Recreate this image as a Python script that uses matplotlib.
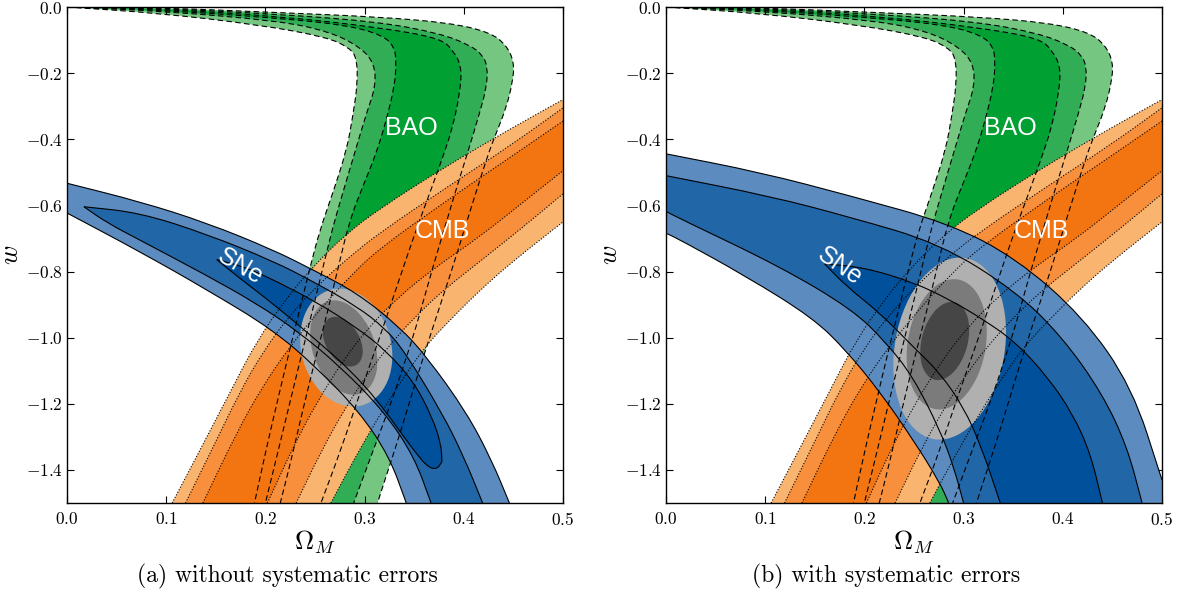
import matplotlib.pyplot as plt
from matplotlib.patches import Ellipse, PathPatch
from matplotlib.path import Path
from matplotlib.transforms import Affine2D

plt.rcParams['font.family'] = 'serif'
plt.rcParams['font.serif'] = ['cmr10']
plt.rcParams['mathtext.fontset'] = 'cm'
plt.rcParams['axes.formatter.use_mathtext'] = True
plt.rcParams['axes.unicode_minus'] = True

# BAO contour edges (Omega_M, w): right (r) and left (l) edge of each sigma level
bao_r3 = [(0.0, 0.0), (0.094, -0.002), (0.2145, -0.017), (0.315, -0.030), (0.386, -0.048),
          (0.426, -0.076), (0.443, -0.115), (0.451, -0.169), (0.449, -0.230), (0.443, -0.302),
          (0.434, -0.372), (0.426, -0.432), (0.414, -0.544), (0.402, -0.659), (0.388, -0.795),
          (0.369, -0.967), (0.352, -1.127), (0.337, -1.278), (0.325, -1.389), (0.313, -1.50)]
bao_r2 = [(0.0, 0.0), (0.094, -0.004), (0.2145, -0.022), (0.315, -0.045), (0.376, -0.080),
          (0.406, -0.115), (0.419, -0.145), (0.424, -0.181), (0.423, -0.242), (0.416, -0.320),
          (0.405, -0.430), (0.393, -0.544), (0.381, -0.665), (0.369, -0.785), (0.356, -0.924),
          (0.348, -1.006), (0.330, -1.170), (0.310, -1.330), (0.289, -1.50)]
bao_r1 = [(0.0, 0.0), (0.094, -0.006), (0.2145, -0.028), (0.315, -0.062), (0.376, -0.094),
          (0.389, -0.130), (0.398, -0.181), (0.396, -0.260), (0.389, -0.362), (0.379, -0.453),
          (0.366, -0.560), (0.350, -0.690), (0.332, -0.850), (0.314, -1.010), (0.295, -1.170),
          (0.276, -1.340), (0.256, -1.50)]
bao_l1 = [(0.0, 0.0), (0.094, -0.009), (0.2145, -0.034), (0.2825, -0.055), (0.318, -0.085),
          (0.330, -0.120), (0.332, -0.169), (0.330, -0.242), (0.322, -0.341), (0.312, -0.441),
          (0.298, -0.544), (0.285, -0.644), (0.274, -0.780), (0.262, -0.930), (0.249, -1.080),
          (0.236, -1.240), (0.226, -1.370), (0.215, -1.50)]
bao_l2 = [(0.0, 0.0), (0.094, -0.012), (0.2145, -0.042), (0.265, -0.075), (0.295, -0.120),
          (0.310, -0.170), (0.311, -0.242), (0.302, -0.320), (0.290, -0.441), (0.278, -0.562),
          (0.268, -0.665), (0.257, -0.800), (0.244, -0.960), (0.230, -1.130), (0.2155, -1.310),
          (0.200, -1.50)]
bao_l3 = [(0.0, 0.0), (0.094, -0.019), (0.194, -0.054), (0.262, -0.091), (0.285, -0.124),
          (0.292, -0.154), (0.293, -0.230), (0.288, -0.332), (0.282, -0.432), (0.268, -0.562),
          (0.255, -0.674), (0.2457, -0.779), (0.2346, -0.915), (0.2245, -1.036), (0.2125, -1.187),
          (0.2014, -1.329), (0.189, -1.50)]

# CMB contour edges: upper-left (u) and lower-right (l) edge of each sigma level
cmb_u3 = [(0.106, -1.50), (0.141, -1.30), (0.167, -1.150), (0.191, -1.012), (0.220, -0.885),
          (0.248, -0.785), (0.280, -0.690), (0.315, -0.610), (0.383, -0.480), (0.449, -0.365),
          (0.500, -0.280)]
cmb_u2 = [(0.1195, -1.50), (0.151, -1.308), (0.174, -1.166), (0.197, -1.045), (0.225, -0.930),
          (0.255, -0.835), (0.285, -0.755), (0.315, -0.683), (0.383, -0.545), (0.449, -0.415),
          (0.500, -0.305)]
cmb_u1 = [(0.137, -1.50), (0.171, -1.287), (0.197, -1.148), (0.2246, -1.027), (0.255, -0.915),
          (0.285, -0.815), (0.315, -0.730), (0.383, -0.585), (0.449, -0.450), (0.500, -0.345)]
cmb_l1 = [(0.202, -1.50), (0.228, -1.330), (0.252, -1.195), (0.278, -1.070), (0.305, -0.965),
          (0.335, -0.875), (0.370, -0.790), (0.416, -0.695), (0.460, -0.590), (0.500, -0.495)]
cmb_l2 = [(0.231, -1.50), (0.256, -1.345), (0.280, -1.215), (0.305, -1.100), (0.330, -1.005),
          (0.355, -0.925), (0.380, -0.855), (0.416, -0.770), (0.460, -0.665), (0.500, -0.565)]
cmb_l3 = [(0.266, -1.50), (0.290, -1.365), (0.313, -1.245), (0.335, -1.140), (0.360, -1.030),
          (0.385, -0.950), (0.415, -0.860), (0.449, -0.770), (0.500, -0.650)]

# SNe contour edges, statistical errors only
sne_a_u3 = [(0.0, -0.533), (0.074, -0.589), (0.141, -0.653), (0.2075, -0.734), (0.248, -0.795),
            (0.292, -0.864), (0.335, -0.967), (0.3625, -1.057), (0.403, -1.227), (0.428, -1.370),
            (0.446, -1.50)]
sne_a_l3 = [(0.0, -0.623), (0.0735, -0.740), (0.141, -0.855), (0.2075, -0.976), (0.2515, -1.090),
            (0.295, -1.225), (0.325, -1.360), (0.342, -1.50)]
sne_a_u2 = [(0.017, -0.604), (0.0735, -0.622), (0.141, -0.687), (0.2075, -0.768), (0.248, -0.830),
            (0.292, -0.905), (0.320, -0.970), (0.340, -1.040), (0.378, -1.227), (0.400, -1.360),
            (0.419, -1.50)]
sne_a_l2 = [(0.017, -0.604), (0.040, -0.652), (0.0735, -0.705), (0.141, -0.812), (0.190, -0.895),
            (0.2325, -0.980), (0.2765, -1.090), (0.320, -1.225), (0.350, -1.360), (0.367, -1.50)]
sne_a_u1 = [(0.151, -0.764), (0.180, -0.787), (0.210, -0.828), (0.250, -0.890), (0.290, -0.965),
            (0.322, -1.040), (0.350, -1.135), (0.368, -1.240), (0.377, -1.320), (0.378, -1.375)]
sne_a_l1 = [(0.151, -0.764), (0.174, -0.820), (0.201, -0.882), (0.228, -0.948), (0.258, -1.025),
            (0.286, -1.100), (0.313, -1.190), (0.336, -1.285), (0.352, -1.350), (0.364, -1.392),
            (0.373, -1.398), (0.378, -1.375)]

# SNe contour edges, with systematic errors
sne_b_u3 = [(0.0, -0.444), (0.095, -0.500), (0.187, -0.572), (0.286, -0.655), (0.353, -0.760),
            (0.420, -0.935), (0.470, -1.150), (0.500, -1.430)]
sne_b_l3 = [(0.0, -0.684), (0.0141, -0.704), (0.081, -0.815), (0.148, -0.940), (0.182, -1.040),
            (0.216, -1.165), (0.249, -1.308), (0.276, -1.438), (0.285, -1.50)]
sne_b_u2 = [(0.0, -0.510), (0.1047, -0.572), (0.185, -0.635), (0.276, -0.715), (0.353, -0.860),
            (0.400, -1.000), (0.440, -1.170), (0.465, -1.330), (0.480, -1.50)]
sne_b_l2 = [(0.0, -0.618), (0.014, -0.640), (0.115, -0.785), (0.188, -0.915), (0.222, -1.015),
            (0.249, -1.118), (0.276, -1.278), (0.290, -1.390), (0.300, -1.50)]
sne_b_u1 = [(0.160, -0.777), (0.199, -0.787), (0.249, -0.832), (0.286, -0.885), (0.320, -0.945),
            (0.353, -1.015), (0.385, -1.120), (0.410, -1.230), (0.428, -1.350), (0.440, -1.50)]
sne_b_l1 = [(0.160, -0.777), (0.182, -0.845), (0.2155, -0.925), (0.249, -1.027), (0.276, -1.106),
            (0.300, -1.210), (0.318, -1.330), (0.337, -1.50)]

# combined constraint: centre, semi-axes (in w units) and tilt of the 3/2/1 sigma regions
comb_a_center = [(0.2815, -1.030), (0.279, -1.030), (0.278, -1.012)]
comb_a_axes = [(0.181, 0.136), (0.148, 0.094), (0.0816, 0.0514)]
comb_a_angle = [-75, -70, -60]
comb_b_center = [(0.286, -1.033), (0.283, -1.020), (0.281, -1.010)]
comb_b_axes = [(0.278, 0.166), (0.199, 0.118), (0.121, 0.0695)]
comb_b_angle = [80, 80, 75]

bao_colors = ['#74c680', '#31ad56', '#00a032']
cmb_colors = ['#f9b46f', '#f78f3c', '#f27512']
sne_colors = ['#5b8bbf', '#2166a6', '#00509b']
comb_colors = ['#b0b0b0', '#7b7b7b', '#464646']

XMAX, YMIN = 0.5, -1.5


def curve(pts):
    # quadratic bezier through the edge midpoints, keeps the end points
    verts, codes = [pts[0]], [Path.MOVETO]
    for i in range(1, len(pts) - 1):
        m = ((pts[i][0] + pts[i + 1][0]) / 2, (pts[i][1] + pts[i + 1][1]) / 2)
        if i == 1:
            m0 = ((pts[0][0] + pts[1][0]) / 2, (pts[0][1] + pts[1][1]) / 2)
            verts.append(m0)
            codes.append(Path.LINETO)
        verts += [pts[i], m]
        codes += [Path.CURVE3, Path.CURVE3]
    verts.append(pts[-1])
    codes.append(Path.LINETO)
    return verts, codes


def fill_band(ax, upper, lower, color, z):
    verts, codes = curve(upper)
    if upper[-1][0] >= XMAX:
        verts.append((XMAX, YMIN))  # band leaves through the right edge
        codes.append(Path.LINETO)
    v2, c2 = curve(list(reversed(lower)))
    c2[0] = Path.LINETO
    verts += v2 + [v2[0]]
    codes += c2 + [Path.CLOSEPOLY]
    ax.add_patch(PathPatch(Path(verts, codes), facecolor=color, edgecolor='none', zorder=z))


def edge(ax, pts, style):
    verts, codes = curve(pts)
    ax.add_patch(PathPatch(Path(verts, codes), fill=False, edgecolor='black', lw=0.8,
                           linestyle=style, zorder=6))


def draw_panel(ax, sne, centers, axes_len, angles, sne_rot):
    bao = [(bao_r3, bao_l3), (bao_r2, bao_l2), (bao_r1, bao_l1)]
    cmb = [(cmb_u3, cmb_l3), (cmb_u2, cmb_l2), (cmb_u1, cmb_l1)]
    for (up, lo), col in zip(bao, bao_colors):
        fill_band(ax, up, lo, col, 1)
    for (up, lo), col in zip(cmb, cmb_colors):
        fill_band(ax, up, lo, col, 2)
    for (up, lo), col in zip(sne, sne_colors):
        fill_band(ax, up, lo, col, 3)

    # x scaled by 3 so that the ellipse angles are in screen terms
    tr = Affine2D().scale(1 / 3.0, 1.0) + ax.transData
    for c, (a, b), ang, col in zip(centers, axes_len, angles, comb_colors):
        ax.add_patch(Ellipse((3 * c[0], c[1]), 2 * a, 2 * b, angle=ang, transform=tr,
                             facecolor=col, edgecolor='none', zorder=4))

    for up, lo in bao:
        edge(ax, up, (0, (5, 3)))
        edge(ax, lo, (0, (5, 3)))
    for up, lo in cmb:
        edge(ax, up, (0, (1, 1.6)))
        edge(ax, lo, (0, (1, 1.6)))
    for up, lo in sne:
        edge(ax, up, '-')
        edge(ax, lo, '-')

    lab = dict(color='white', fontsize=18, family='Liberation Sans',
               ha='center', va='center', zorder=8)
    ax.text(0.3474, -0.365, 'BAO', **lab)
    ax.text(0.3787, -0.678, 'CMB', **lab)
    ax.text(0.175, -0.785, 'SNe', rotation=sne_rot, rotation_mode='anchor', **lab)

    ax.set_xlim(0, XMAX)
    ax.set_ylim(YMIN, 0)
    ax.set_xticks([0.0, 0.1, 0.2, 0.3, 0.4, 0.5])
    ax.set_yticks([-1.4, -1.2, -1.0, -0.8, -0.6, -0.4, -0.2, 0.0])
    ax.tick_params(direction='in', top=True, right=True, length=5, width=0.8,
                   labelsize=12.5)
    ax.tick_params(axis='x', pad=6)
    ax.tick_params(axis='y', pad=3)
    for s in ax.spines.values():
        s.set_linewidth(1.0)
        s.set_zorder(10)
    ax.set_xlabel(r'$\Omega_M$', fontsize=19)
    ax.set_ylabel(r'$w$', fontsize=19)
    ax.xaxis.set_label_coords(0.5, -0.052)
    ax.yaxis.set_label_coords(-0.088, 0.5)


fig = plt.figure(figsize=(11.8, 5.94), dpi=100)
ax_a = fig.add_axes([0.0568, 0.1532, 0.4203, 0.835])
ax_b = fig.add_axes([0.5644, 0.1532, 0.4203, 0.835])

draw_panel(ax_a, [(sne_a_u3, sne_a_l3), (sne_a_u2, sne_a_l2), (sne_a_u1, sne_a_l1)],
           comb_a_center, comb_a_axes, comb_a_angle, -31)
draw_panel(ax_b, [(sne_b_u3, sne_b_l3), (sne_b_u2, sne_b_l2), (sne_b_u1, sne_b_l1)],
           comb_b_center, comb_b_axes, comb_b_angle, -35)

fig.text(287 / 1180, 1 - 576 / 594, '(a) without systematic errors',
         ha='center', va='center', fontsize=17)
fig.text(886 / 1180, 1 - 576 / 594, '(b) with systematic errors',
         ha='center', va='center', fontsize=17)

fig.savefig('out.png', dpi=100)
